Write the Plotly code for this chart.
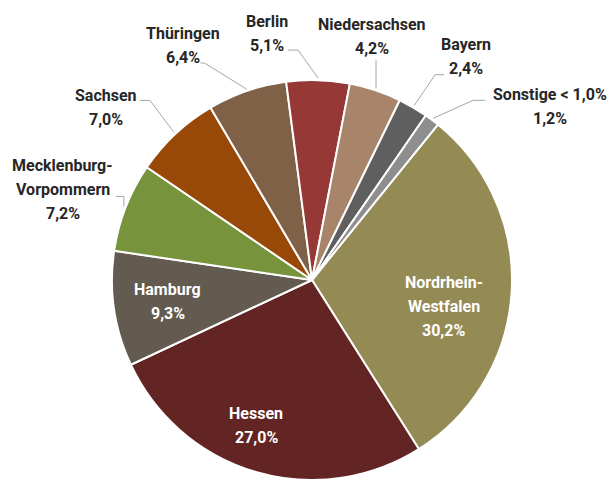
import math
import plotly.graph_objects as go

# ---- data ----
labels = ["Nordrhein-Westfalen", "Hessen", "Hamburg", "Mecklenburg-Vorpommern",
          "Sachsen", "Thüringen", "Berlin", "Niedersachsen", "Bayern", "Sonstige < 1,0%"]
display_lines = [["Nordrhein-", "Westfalen"], ["Hessen"], ["Hamburg"],
                 ["Mecklenburg-", "Vorpommern"], ["Sachsen"], ["Thüringen"], ["Berlin"],
                 ["Niedersachsen"], ["Bayern"], ["Sonstige &lt; 1,0%"]]
values = [30.2, 27.0, 9.3, 7.2, 7.0, 6.4, 5.1, 4.2, 2.4, 1.2]

# ---- style ----
colors = ["#948A54", "#632523", "#635B4F", "#77933C", "#984807",
          "#7F6148", "#963836", "#A8856A", "#5F5F5F", "#8E8E8E"]
W, H = 616, 484
OFF = 8          # page body margin of the html page
CX, CY, R = 312, 280, 200
ROT = 39
FONT = "Roboto"
FS = 16
LINE_H = 24

# label placement style: inside -> (r_factor, nudge dx, nudge dy)
# outside -> elbow offset, end offset, text-centre offset (relative to slice edge point)
inside_style = {0: (0.66, 0, 19), 1: (0.78, -12, -4), 2: (0.73, 0, 0)}
outside_style = {
    3: ((0, -10), (-8, -10), (-61, -17)),
    4: ((-24, -32), (-34, -32), (-68, -25)),
    5: ((-42, -26), (-46, -26), (-63, -43)),
    6: ((-20, -28), (-30, -28), (-51, -45)),
    7: ((0, -28), (0, -28), (-4, -52)),
    8: ((21, -31), (30, -31), (52, -49)),
    9: ((40, -18), (52, -18), (117, -12)),
}

def px(x):
    return (x - OFF) / W

def py(y):
    return 1 - (y - OFF) / H

fig = go.Figure(go.Pie(
    labels=labels, values=values, sort=False, direction="clockwise",
    rotation=ROT, textinfo="none", hoverinfo="label+percent",
    marker=dict(colors=colors, line=dict(color="white", width=2)),
    domain=dict(x=[px(CX - R), px(CX + R)], y=[py(CY + R), py(CY - R)]),
))

total = sum(values)
cum = 0
annotations = []
shapes = []
for i, v in enumerate(values):
    mid = math.radians(ROT + (cum + v / 2) / total * 360)
    cum += v
    pct = f"{v:.1f}".replace(".", ",") + "%"
    lines = display_lines[i] + [pct]
    if i in inside_style:
        rf, ndx, ndy = inside_style[i]
        tx = CX + rf * R * math.sin(mid) + ndx
        ty = CY - rf * R * math.cos(mid) + ndy
        col = "white"
    else:
        (ex, ey), (fx, fy), (ox, oy) = outside_style[i]
        ax = CX + (R + 2) * math.sin(mid)
        ay = CY - (R + 2) * math.cos(mid)
        path = f"M {px(ax)} {py(ay)} L {px(ax + ex)} {py(ay + ey)} L {px(ax + fx)} {py(ay + fy)}"
        shapes.append(dict(type="path", xref="paper", yref="paper", path=path,
                           line=dict(color="#A6A6A6", width=1)))
        tx, ty = ax + ox, ay + oy
        col = "#262626"
    n = len(lines)
    for k, t in enumerate(lines):
        yy = ty + (k - (n - 1) / 2) * LINE_H
        annotations.append(dict(x=px(tx), y=py(yy), xref="paper", yref="paper",
                                text=t, showarrow=False, xanchor="center", yanchor="middle",
                                font=dict(family=FONT, size=FS, color=col, weight="bold")))

fig.update_layout(
    width=W, height=H, autosize=False, showlegend=False,
    margin=dict(l=0, r=0, t=0, b=0),
    paper_bgcolor="white", plot_bgcolor="white",
    annotations=annotations, shapes=shapes,
)
fig.write_html("out.html")
